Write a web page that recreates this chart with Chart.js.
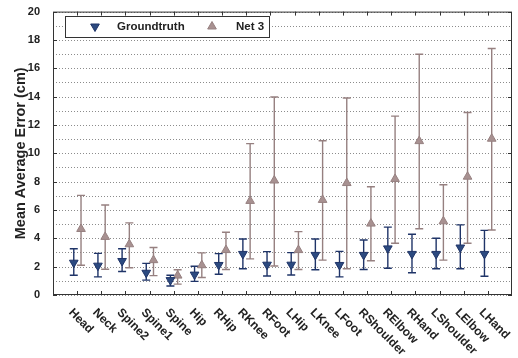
<!DOCTYPE html>
<html>
<head>
<meta charset="utf-8">
<script src="https://cdn.jsdelivr.net/npm/chart.js@4.4.1/dist/chart.umd.min.js"></script>
<style>
  html, body { margin: 0; padding: 0; background: #fff; }
  #wrap { width: 518px; height: 358px; }
</style>
</head>
<body>
<div id="wrap"><canvas id="chart"></canvas></div>
<script>
const joints = ['Head', 'Neck', 'Spine2', 'Spine1', 'Spine', 'Hip', 'RHip', 'RKnee', 'RFoot',
  'LHip', 'LKnee', 'LFoot', 'RShoulder', 'RElbow', 'RHand', 'LShoulder', 'LElbow', 'LHand'];

const gtMean = [2.28, 2.07, 2.40, 1.57, 1.05, 1.44, 2.12, 2.90, 2.14, 2.14, 2.83, 2.12, 2.83, 3.29, 2.90, 2.90, 3.35, 2.90];
const gtLow  = [1.39, 1.28, 1.66, 1.05, 0.64, 0.96, 1.46, 1.85, 1.34, 1.41, 1.78, 1.28, 1.80, 1.89, 1.57, 1.85, 1.85, 1.32];
const gtHigh = [3.26, 2.94, 3.26, 2.23, 1.39, 2.03, 2.92, 3.95, 3.06, 2.99, 3.95, 3.08, 3.88, 4.79, 4.29, 4.01, 4.95, 4.56];

const netMean = [4.66, 4.10, 3.58, 2.46, 1.37, 2.10, 3.17, 6.64, 8.08, 3.17, 6.71, 7.90, 5.04, 8.19, 10.86, 5.20, 8.35, 11.03];
const netLow  = [2.10, 1.82, 1.92, 1.37, 0.77, 1.23, 1.80, 2.55, 2.05, 1.80, 2.46, 1.85, 2.42, 3.65, 4.68, 2.46, 3.65, 4.59];
const netHigh = [7.03, 6.35, 5.09, 3.35, 1.78, 2.97, 4.43, 10.68, 13.97, 4.47, 10.89, 13.90, 7.64, 12.62, 16.99, 7.78, 12.88, 17.40];

const yTickLabels = ['0', '2', '4', '6', '8', '10', '12', '14', '16', '18', '20'];

const blue = '#2c4a80';
const blueBar = '#1f3468';
const mauve = '#a89191';
const mauveBar = '#968080';
const fontFamily = '"Liberation Sans", Arial, sans-serif';

// points sit a bit left / right of each joint tick
function points(values, shift) {
  return values.map((v, i) => ({ x: i + 1 + shift, y: v }));
}

// dotted horizontal grid every 1 cm, drawn by hand so the dots stay crisp
const dottedGrid = {
  id: 'dottedGrid',
  beforeDatasetsDraw(chart) {
    const { ctx, chartArea: a, scales: { y } } = chart;
    ctx.save();
    ctx.strokeStyle = '#8c8c8c';
    ctx.lineWidth = 1;
    ctx.setLineDash([1, 2]);
    ctx.beginPath();
    y.ticks.forEach(t => {
      const py = Math.round(y.getPixelForValue(t.value)) + 0.5;
      ctx.moveTo(a.left, py);
      ctx.lineTo(a.right, py);
    });
    ctx.stroke();
    ctx.restore();
  }
};

const errorBars = {
  id: 'errorBars',
  beforeDatasetsDraw(chart) {
    const ctx = chart.ctx;
    const y = chart.scales.y;
    chart.data.datasets.forEach((ds, di) => {
      const meta = chart.getDatasetMeta(di);
      ctx.save();
      ctx.strokeStyle = ds.barColor;
      ctx.lineWidth = 1.4;
      meta.data.forEach((pt, i) => {
        const top = y.getPixelForValue(ds.high[i]);
        const bot = y.getPixelForValue(ds.low[i]);
        ctx.beginPath();
        ctx.moveTo(pt.x, top);
        ctx.lineTo(pt.x, bot);
        ctx.moveTo(pt.x - 4, top);
        ctx.lineTo(pt.x + 4, top);
        ctx.moveTo(pt.x - 4, bot);
        ctx.lineTo(pt.x + 4, bot);
        ctx.stroke();
      });
      ctx.restore();
    });
  }
};

const frame = {
  id: 'frame',
  afterDraw(chart) {
    const { ctx, chartArea: a, scales: { x, y } } = chart;
    ctx.save();
    ctx.strokeStyle = '#333';
    ctx.lineWidth = 1;
    ctx.strokeRect(a.left + 0.5, a.top + 0.5, a.right - a.left - 1, a.bottom - a.top - 1);

    // inward tick marks on all four sides
    ctx.beginPath();
    joints.forEach((j, i) => {
      const px = Math.round(x.getPixelForValue(i + 1)) + 0.5;
      ctx.moveTo(px, a.top); ctx.lineTo(px, a.top + 4);
      ctx.moveTo(px, a.bottom); ctx.lineTo(px, a.bottom - 4);
    });
    yTickLabels.forEach(t => {
      const py = Math.round(y.getPixelForValue(+t)) + 0.5;
      ctx.moveTo(a.left, py); ctx.lineTo(a.left + 4, py);
      ctx.moveTo(a.right, py); ctx.lineTo(a.right - 4, py);
    });
    ctx.stroke();

    // slanted joint names
    ctx.fillStyle = '#222';
    ctx.font = 'bold 12px ' + fontFamily;
    ctx.textAlign = 'left';
    ctx.textBaseline = 'alphabetic';
    joints.forEach((j, i) => {
      const px = x.getPixelForValue(i + 1);
      ctx.save();
      ctx.translate(px - 9, a.bottom + 18);
      ctx.rotate(Math.PI / 4);
      ctx.fillText(j, 0, 0);
      ctx.restore();
    });

    // legend box
    ctx.fillStyle = '#fff';
    ctx.fillRect(65, 16, 204, 21);
    ctx.strokeStyle = '#333';
    ctx.strokeRect(65.5, 16.5, 204, 21);
    ctx.font = 'bold 11.5px ' + fontFamily;
    ctx.textBaseline = 'middle';
    const items = [
      { ds: chart.data.datasets[0], mx: 95, tx: 117 },
      { ds: chart.data.datasets[1], mx: 212, tx: 236 }
    ];
    items.forEach(it => {
      ctx.fillStyle = it.ds.pointBackgroundColor;
      ctx.strokeStyle = it.ds.pointBorderColor;
      ctx.lineWidth = 1;
      Chart.helpers.drawPoint(ctx, {
        pointStyle: 'triangle',
        rotation: it.ds.pointRotation,
        radius: 5,
        borderWidth: 1
      }, it.mx, 26.5);
      ctx.fillStyle = '#222';
      ctx.fillText(it.ds.label, it.tx, 27);
    });
    ctx.restore();
  }
};

new Chart(document.getElementById('chart'), {
  type: 'scatter',
  data: {
    datasets: [
      {
        label: 'Groundtruth',
        data: points(gtMean, -0.14),
        low: gtLow,
        high: gtHigh,
        barColor: blueBar,
        pointStyle: 'triangle',
        pointRotation: 180,
        pointRadius: 5,
        pointBackgroundColor: blue,
        pointBorderColor: blueBar,
        pointBorderWidth: 1
      },
      {
        label: 'Net 3',
        data: points(netMean, 0.16),
        low: netLow,
        high: netHigh,
        barColor: mauveBar,
        pointStyle: 'triangle',
        pointRotation: 0,
        pointRadius: 5,
        pointBackgroundColor: mauve,
        pointBorderColor: mauveBar,
        pointBorderWidth: 1
      }
    ]
  },
  options: {
    responsive: true,
    maintainAspectRatio: false,
    animation: false,
    layout: { padding: { top: 3, right: 1, left: 0, bottom: 0 } },
    plugins: {
      legend: { display: false },
      tooltip: { enabled: false }
    },
    scales: {
      x: {
        type: 'linear',
        min: 0,
        max: 19,
        grid: { display: false },
        border: { display: false },
        ticks: { display: false },
        afterFit(scale) { scale.height = 63; }
      },
      y: {
        min: 0,
        max: 20,
        border: { display: false },
        grid: { display: false },
        ticks: {
          stepSize: 1,
          autoSkip: false,
          padding: 5,
          color: '#222',
          font: { family: fontFamily, size: 11, weight: 'bold' },
          callback: v => (yTickLabels.includes(String(v)) ? String(v) : '')
        },
        title: {
          display: true,
          text: 'Mean Average Error (cm)',
          color: '#222',
          padding: { top: 12, bottom: 0 },
          font: { family: fontFamily, size: 14.5, weight: 'bold' }
        },
        afterFit(scale) { scale.width = 53; }
      }
    }
  },
  plugins: [dottedGrid, errorBars, frame]
});
</script>
</body>
</html>
